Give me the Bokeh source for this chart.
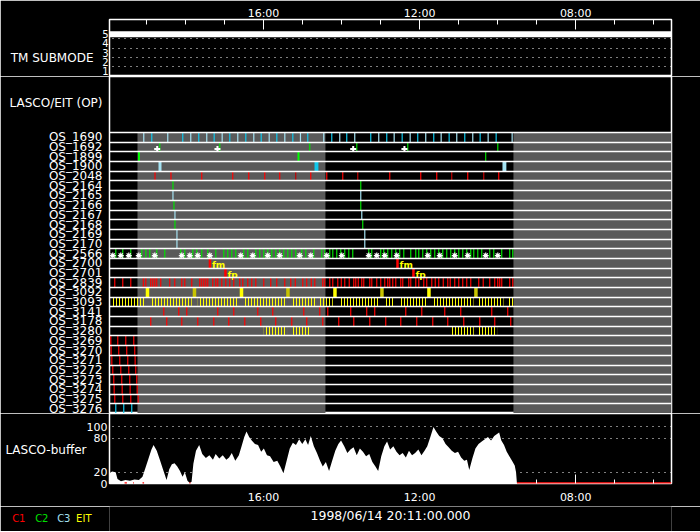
from bokeh.plotting import figure
from bokeh.layouts import column
from bokeh.models import Range1d, FixedTicker, LinearAxis
from bokeh.embed import file_html
from bokeh.resources import INLINE
from bokeh.core.properties import value

FONT = "DejaVu Sans"

# ---------------- time axis (hours of day, time runs right-to-left) ----------------
t_start, t_end = 19.946, 5.546
tick_hours = [16, 12, 8]
tick_labels = ["16:00", "12:00", "08:00"]
minor_hours = [19, 18, 17, 15, 14, 13, 11, 10, 9, 7, 6]
date_label = "1998/06/14 20:11:00.000"

# ---------------- TM submode ----------------
tm_times = [19.946, 5.546]
tm_mode = [5, 5]
tm_levels = [1, 2, 3, 4, 5]
tm_title = "TM SUBMODE"

# ---------------- OS rows ----------------
os_names = ["OS_1690", "OS_1692", "OS_1899", "OS_1900", "OS_2048", "OS_2164", "OS_2165",
            "OS_2166", "OS_2167", "OS_2168", "OS_2169", "OS_2170", "OS_2566", "OS_2700",
            "OS_2701", "OS_2839", "OS_3092", "OS_3093", "OS_3141", "OS_3178", "OS_3280",
            "OS_3269", "OS_3270", "OS_3271", "OS_3272", "OS_3273", "OS_3274", "OS_3275",
            "OS_3276"]
op_label = "LASCO/EIT (OP)"

grey_start = [19.229, 9.596]
grey_end = [14.413, 5.546]

os1690_times = [19.068, 18.863, 18.453, 18.069, 17.864, 17.659, 17.454, 17.264, 17.059, 16.864,
                16.659, 16.454, 16.249, 16.059, 15.854, 15.659, 15.454, 15.249, 15.053, 14.866,
                14.456, 14.251, 14.046, 13.867, 13.662, 13.252, 13.047, 12.842, 12.652, 12.447,
                12.242, 12.048, 11.843, 11.638, 11.448, 11.243, 11.048, 10.843, 10.638, 10.449,
                10.244, 10.039, 9.629]
os1692_times = [18.658, 17.121, 14.815, 13.610, 12.304, 9.997]
os1692_marks = [18.724, 17.180, 13.702, 12.389]
os1899_times = [19.191, 15.104, 10.306]
os1899_width = [0.05, 0.05, 0.026]
os1900_times = [18.652, 14.643, 9.827]
os1900_width = [0.077, 0.10, 0.10]
os1900_cam = ["C3", "C3b", "C3"]
os2048_bright = [18.780, 18.371, 17.582, 16.788, 16.378, 15.968, 15.584, 14.789, 14.379,
                 13.969, 12.765, 11.971, 11.561, 10.767, 9.973]
os2048_dark = [15.174, 13.585, 11.177, 10.357]
diag_names = ["OS_2164", "OS_2165", "OS_2166", "OS_2167", "OS_2168", "OS_2169", "OS_2170"]
diag_cam = ["C2", "C3", "C2", "C3", "C2", "C3", "C3"]
diag_t1 = [18.320, 18.320, 18.295, 18.269, 18.269, 18.218, 18.218]
diag_t2 = [13.508, 13.508, 13.508, 13.482, 13.457, 13.405, 13.405]
os2566_times = [19.785, 19.606, 19.401, 19.119, 19.016, 18.914, 18.734, 18.530, 18.120, 18.017,
                17.812, 17.710, 17.582, 17.428, 17.223, 17.018, 16.916, 16.813, 16.711, 16.506,
                16.403, 16.198, 16.096, 15.993, 15.891, 15.788, 15.686, 15.584, 15.481, 15.378,
                15.276, 15.174, 15.020, 14.917, 14.712, 14.507, 14.430, 14.302, 14.225, 14.123,
                14.020, 13.918, 13.815, 13.713, 13.303, 13.226, 12.996, 12.919, 12.816, 12.714,
                12.611, 12.509, 12.406, 12.227, 12.099, 12.022, 11.920, 11.817, 11.715, 11.612,
                11.510, 11.407, 11.305, 11.202, 11.100, 10.997, 10.895, 10.792, 10.690, 10.613,
                10.510, 10.408, 10.203, 10.100, 9.896, 9.691, 9.614]
os2566_marks = [19.862, 19.657, 19.452, 19.196, 18.786, 18.094, 17.889, 17.684, 17.377, 16.583,
                16.275, 15.891, 15.584, 15.071, 14.789, 14.379, 13.995, 13.303, 13.098, 12.893,
                12.586, 11.791, 11.484, 11.100, 10.767, 10.306, 9.997]
os2700_times = [17.372, 12.567]
os2700_tag = ["fm", "fm"]
os2701_times = [16.975, 12.158]
os2701_tag = ["fp", "fp"]
os2839_times = [19.811, 19.606, 19.401, 19.080, 19.016, 18.889, 18.838, 18.786, 18.735, 18.633,
                18.402, 18.274, 18.094, 18.017, 17.838, 17.633, 17.582, 17.530, 17.479, 17.428,
                17.300, 17.223, 17.172, 17.069, 16.967, 16.864, 16.762, 16.608, 16.531, 16.403,
                16.301, 16.198, 15.993, 15.814, 15.660, 15.455, 15.301, 15.186, 14.994, 14.892,
                14.776, 14.686, 14.482, 14.430, 14.302, 14.225, 14.097, 14.007, 13.918, 13.803,
                13.687, 13.636, 13.572, 13.482, 13.431, 13.277, 13.226, 13.098, 12.996, 12.893,
                12.816, 12.765, 12.688, 12.611, 12.483, 12.432, 12.278, 12.227, 12.099, 12.022,
                11.894, 11.817, 11.689, 11.599, 11.510, 11.394, 11.279, 11.215, 11.100, 10.997,
                10.895, 10.792, 10.690, 10.485, 10.370, 10.203, 10.075, 9.998, 9.947, 9.896,
                9.691, 9.614]
os3092_times = [18.973, 17.769, 16.564, 15.374, 14.169, 12.965, 11.761, 10.557]
os3092_cam = ["EIT", "EITb", "EIT", "EITb", "EIT", "EITb", "EIT", "EITb"]
os3093_run_start = [19.887, 18.889, 17.684, 16.480, 15.276, 14.592, 14.028, 12.901, 12.517,
                    11.671, 10.493, 9.750]
os3093_run_end = [19.024, 17.838, 16.641, 15.437, 14.669, 14.225, 13.029, 12.645, 11.799,
                  10.621, 9.852, 9.596]
os3141_times = [18.555, 18.171, 17.966, 17.172, 16.762, 16.147, 15.763, 14.968, 14.558, 14.353,
                13.765, 13.355, 13.150, 12.355, 11.945, 11.356, 10.946, 10.152, 9.742]
os3178_times = [18.889, 18.479, 18.094, 17.684, 17.274, 16.890, 16.480, 16.070, 15.686, 15.276,
                14.892, 14.482, 14.072, 13.687, 13.277, 12.868, 12.483, 12.073, 11.663, 11.279,
                10.869, 10.459, 10.075, 9.665]
os3280_run_start = [15.993, 15.276, 11.184, 10.485]
os3280_run_end = [15.397, 14.797, 10.613, 10.014]
c1_seq_names = ["OS_3269", "OS_3270", "OS_3271", "OS_3272", "OS_3273", "OS_3274", "OS_3275"]
c1_seq_times = [[19.913, 19.734, 19.529, 19.324],
                [19.903, 19.709, 19.504, 19.299],
                [19.887, 19.683, 19.478, 19.289],
                [19.862, 19.657, 19.452, 19.273],
                [19.836, 19.632, 19.427, 19.248],
                [19.826, 19.621, 19.417, 19.237],
                [19.811, 19.606, 19.401, 19.212]]
os3276_times = [19.785, 19.581, 19.376]

# ---------------- LASCO buffer ----------------
buf_title = "LASCO-buffer"
buf_time = [19.946, 19.880, 19.788, 19.741, 19.652, 19.536, 19.421, 19.306, 19.193, 19.101,
            19.024, 18.942, 18.871, 18.817, 18.735, 18.656, 18.576, 18.484, 18.415, 18.348,
            18.279, 18.209, 18.140, 18.074, 18.015, 17.948, 17.889, 17.843, 17.797, 17.730,
            17.648, 17.569, 17.477, 17.387, 17.295, 17.226, 17.133, 17.044, 16.952, 16.882,
            16.813, 16.723, 16.631, 16.562, 16.493, 16.436, 16.367, 16.301, 16.219, 16.139,
            16.060, 15.991, 15.911, 15.832, 15.740, 15.647, 15.568, 15.489, 15.407, 15.327,
            15.248, 15.168, 15.086, 15.007, 14.927, 14.858, 14.789, 14.710, 14.630, 14.551,
            14.482, 14.402, 14.320, 14.241, 14.161, 14.082, 14.013, 13.931, 13.851, 13.772,
            13.693, 13.611, 13.531, 13.452, 13.372, 13.290, 13.211, 13.132, 13.062, 12.983,
            12.903, 12.834, 12.755, 12.673, 12.593, 12.514, 12.435, 12.353, 12.273, 12.194,
            12.115, 12.032, 11.953, 11.874, 11.804, 11.725, 11.645, 11.576, 11.497, 11.415,
            11.335, 11.256, 11.177, 11.095, 11.015, 10.936, 10.856, 10.787, 10.728, 10.649,
            10.570, 10.490, 10.408, 10.329, 10.249, 10.170, 10.088, 10.008, 9.962, 9.906,
            9.837, 9.768, 9.701, 9.632, 9.563, 9.529, 9.506]
buf_value = [18, 21, 20, 8, 4, 6, 5, 7, 6, 12,
             28, 45, 60, 68, 58, 42, 25, 6, 25, 34,
             36, 30, 22, 12, 20, 5, 1, 3, 35, 58,
             68, 52, 45, 50, 42, 52, 44, 50, 42, 46,
             54, 40, 50, 66, 82, 92, 82, 76, 70, 68,
             56, 62, 50, 48, 38, 40, 30, 18, 40, 62,
             72, 68, 78, 70, 78, 68, 84, 66, 54, 40,
             30, 38, 22, 40, 58, 70, 76, 66, 54, 60,
             64, 50, 62, 56, 48, 52, 38, 30, 22, 48,
             66, 74, 60, 66, 56, 50, 54, 46, 58, 50,
             54, 60, 50, 58, 66, 82, 100, 92, 84, 80,
             70, 64, 58, 54, 56, 46, 40, 42, 24, 44,
             62, 70, 74, 78, 82, 76, 84, 88, 90, 76,
             68, 56, 48, 40, 32, 20, 0]
buf_ticks = [0, 20, 80, 100]
buf_grid = [20, 80, 100]
buf_gap_start = [19.560, 19.340, 19.100, 17.900, 9.506]
buf_gap_end = [19.500, 19.320, 19.060, 17.870, 5.546]

# camera colour key, listed from the frame outward
key_names = ["EIT", "C3", "C2", "C1"]
key_standoff = [18, 3, 6, 7]

# ---------------- styles ----------------
cam_color = {"C1": "#ff0000", "C1d": "#c00000", "C2": "#00e000", "C2b": "#00ff00",
             "C3": "#a4e2f2", "C3b": "#10c8ec", "EIT": "#ffff00", "EITb": "#c8c400"}
GREY = "#5a5a5a"

# page geometry (frame spans x 109..671)
FRAME_W, LEFT_B, RIGHT_B = 562, 109, 29
xr = Range1d(t_start, t_end)


def make_fig(frame_h, y_range, **kw):
    p = figure(frame_width=FRAME_W, frame_height=frame_h, x_range=xr, y_range=y_range,
               output_backend="svg", toolbar_location=None, tools="",
               background_fill_color="black", border_fill_color="black",
               outline_line_color="white", outline_line_width=1.5,
               min_border_left=LEFT_B, min_border_right=RIGHT_B, **kw)
    p.xgrid.visible = False
    p.ygrid.visible = False
    return p


def style_axis(ax, size="11px", color="white"):
    ax.axis_line_color = None
    ax.major_tick_line_color = "white"
    ax.minor_tick_line_color = "white"
    ax.major_label_text_color = color
    ax.major_label_text_font = FONT
    ax.major_label_text_font_size = size
    ax.axis_label_text_color = "white"
    ax.axis_label_text_font = FONT
    ax.axis_label_text_font_style = "normal"


def label_only(ax, standoff):
    ax.major_tick_in = 0
    ax.major_tick_out = 0
    ax.minor_tick_line_color = None
    ax.major_label_standoff = standoff


def time_axis(ax):
    style_axis(ax, "11px")
    ax.ticker = FixedTicker(ticks=tick_hours, minor_ticks=minor_hours)
    ax.major_label_overrides = dict(zip(tick_hours, tick_labels))


def title_axis(p, y, text, standoff, size="12px", color="white"):
    ax = LinearAxis(ticker=FixedTicker(ticks=[y]), major_label_overrides={y: text})
    style_axis(ax, size, color)
    label_only(ax, standoff)
    p.add_layout(ax, "left")


# ======== panel A: TM submode ========
pA = make_fig(57, Range1d(0.43, 6.59), x_axis_location="above",
              min_border_top=19, min_border_bottom=0)
time_axis(pA.xaxis[0])
pA.xaxis.major_tick_in = 10
pA.xaxis.major_tick_out = 0
pA.xaxis.minor_tick_in = 5
pA.xaxis.minor_tick_out = 0
pA.xaxis.major_label_standoff = 0
style_axis(pA.yaxis[0], "10px")
pA.yaxis.ticker = FixedTicker(ticks=tm_levels)
label_only(pA.yaxis[0], 1)
title_axis(pA, 2.44, tm_title, 6)
pA.ygrid.visible = True
pA.ygrid.ticker = FixedTicker(ticks=[1.5, 2.5, 3.5, 4.5])
pA.ygrid.grid_line_color = "white"
pA.ygrid.grid_line_dash = "1 5"
pA.line(tm_times, tm_mode, line_color="white", line_width=6)

# ======== panel B: OS timeline ========
nrow = len(os_names)
pB = make_fig(337, Range1d(0, 34.78), x_axis_location=None,
              min_border_top=0, min_border_bottom=0)
style_axis(pB.yaxis[0], "12px")
centers = [nrow - 1 - i + 0.5 for i in range(nrow)]
pB.yaxis.ticker = FixedTicker(ticks=centers + [32.0])
ov = {c: n for c, n in zip(centers, os_names)}
ov[32.0] = op_label
pB.yaxis.major_label_overrides = ov
label_only(pB.yaxis[0], 7)


def base(name):
    return nrow - 1 - os_names.index(name)


def vticks(name, times, color, width=1.2):
    b = base(name)
    pB.segment(x0=times, x1=times, y0=b, y1=b + 1, line_color=color, line_width=width)


def vbars(name, times, widths, colors):
    b = base(name)
    pB.quad(left=[t + w / 2 for t, w in zip(times, widths)],
            right=[t - w / 2 for t, w in zip(times, widths)],
            bottom=b, top=b + 1, fill_color=colors, line_color=None)


def hatched_runs(name, starts, ends, color):
    b = base(name)
    pB.quad(left=starts, right=ends, bottom=b + 0.04, top=b + 0.96, fill_alpha=0,
            line_color=None, hatch_pattern="vertical_line", hatch_color=color,
            hatch_scale=3, hatch_weight=1)


pB.quad(left=grey_start, right=grey_end, bottom=0, top=nrow, fill_color=GREY, line_color=None)

vticks("OS_1690", os1690_times[0::2], cam_color["C3"])
vticks("OS_1690", os1690_times[1::2], cam_color["C3b"])
vticks("OS_1692", os1692_times, cam_color["C2"])
pB.scatter(x=os1692_marks, y=base("OS_1692") + 0.3, marker="cross", size=6,
           line_color="white", line_width=2)
vbars("OS_1899", os1899_times, os1899_width, cam_color["C2b"])
vbars("OS_1900", os1900_times, os1900_width, [cam_color[c] for c in os1900_cam])
vticks("OS_2048", os2048_bright, cam_color["C1"])
vticks("OS_2048", os2048_dark, cam_color["C1d"])
for n, c, t1, t2 in zip(diag_names, diag_cam, diag_t1, diag_t2):
    vticks(n, [t1, t2], cam_color[c])
vticks("OS_2566", os2566_times, cam_color["C2"])
pB.scatter(x=os2566_marks, y=base("OS_2566") + 0.3, marker="asterisk", size=6,
           line_color="white", line_width=1.2)
for name, times, tags in [("OS_2700", os2700_times, os2700_tag),
                          ("OS_2701", os2701_times, os2701_tag)]:
    vticks(name, times, cam_color["C1"], width=2.5)
    pB.text(x=times, y=base(name) + 0.5, text=tags, x_offset=2, y_offset=2,
            text_color=cam_color["EIT"], text_font=value(FONT), text_font_size="9px",
            text_font_style="bold", text_baseline="middle", text_align="left")
vticks("OS_2839", os2839_times, cam_color["C1"])
vbars("OS_3092", os3092_times, [0.09] * len(os3092_times), [cam_color[c] for c in os3092_cam])
hatched_runs("OS_3093", os3093_run_start, os3093_run_end, cam_color["EIT"])
vticks("OS_3141", os3141_times, cam_color["C1"])
vticks("OS_3178", os3178_times, cam_color["C1"])
hatched_runs("OS_3280", os3280_run_start, os3280_run_end, cam_color["EIT"])
for n, ts in zip(c1_seq_names, c1_seq_times):
    vticks(n, ts, cam_color["C1"])
vticks("OS_3276", os3276_times, cam_color["C3b"])

pB.hspan(y=list(range(1, nrow + 1)), line_color="white", line_width=1.5)

# ======== panel C: LASCO buffer ========
pC = make_fig(70, Range1d(0, 123.7), min_border_top=0, min_border_bottom=22)
time_axis(pC.xaxis[0])
pC.xaxis.major_tick_in = 9
pC.xaxis.major_tick_out = 0
pC.xaxis.minor_tick_in = 4
pC.xaxis.minor_tick_out = 0
pC.xaxis.major_label_standoff = 7
style_axis(pC.yaxis[0], "11px")
pC.yaxis.ticker = FixedTicker(ticks=buf_ticks)
label_only(pC.yaxis[0], 2)
title_axis(pC, 60, buf_title, -3)
pC.ygrid.visible = True
pC.ygrid.ticker = FixedTicker(ticks=buf_grid)
pC.ygrid.grid_line_color = "white"
pC.ygrid.grid_line_dash = "1 5"
pC.varea(x=buf_time, y1=0, y2=buf_value, fill_color="white")
pC.segment(x0=buf_gap_start, x1=buf_gap_end, y0=0.5, y1=0.5, line_color="#ff0000", line_width=2)

# ======== strip D: date caption and camera colour key ========
D_H = 25
pD = make_fig(D_H, Range1d(0, D_H), min_border_top=0, min_border_bottom=0,
              x_axis_location=None, y_axis_location=None)
pD.outline_line_color = None
pD.text(x=[(t_start + t_end) / 2], y=[16.3], text=[date_label], text_color="white",
        text_font=value(FONT), text_font_size="12.5px", text_align="center",
        text_baseline="middle")
for nm, so in zip(key_names, key_standoff):
    title_axis(pD, 13, nm, so, size="10px", color=cam_color[nm])

layout = column(pA, pB, pC, pD, spacing=0)
html = file_html(layout, INLINE, title="LASCO/EIT timeline")
html = html.replace("<body>", '<body style="background-color:#000000;">', 1)
open("out.html", "w").write(html)
